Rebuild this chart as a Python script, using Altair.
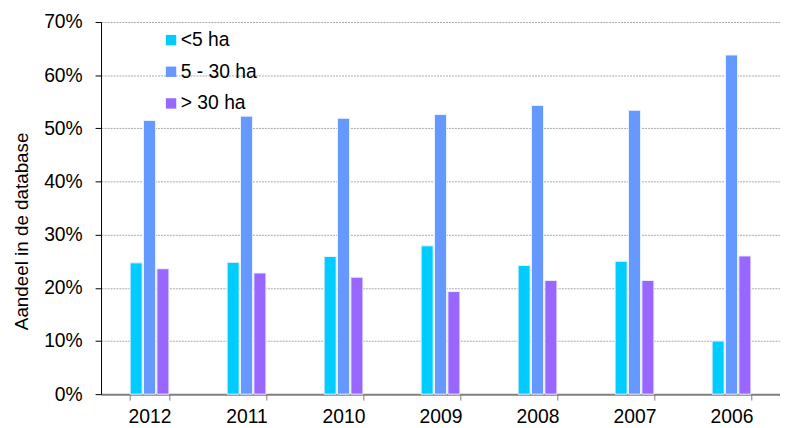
import altair as alt
import pandas as pd

years = ["2012", "2011", "2010", "2009", "2008", "2007", "2006"]
series = ["<5 ha", " 5 - 30 ha", "> 30 ha"]
small = [24.7, 24.8, 25.9, 27.9, 24.2, 25.0, 10.0]
medium = [51.5, 52.3, 51.9, 52.6, 54.3, 53.4, 63.8]
large = [23.6, 22.8, 22.0, 19.3, 21.4, 21.4, 26.0]
colors = ["#00CCFF", "#6699FF", "#9966FF"]

rows = []
for s, vals in zip(series, [small, medium, large]):
    for y, v in zip(years, vals):
        rows.append({"jaar": y, "klasse": s, "aandeel": v / 100})
df = pd.DataFrame(rows)

font = "Liberation Sans"
fs = 19.5

chart = alt.Chart(df).mark_bar(stroke="#EAF2FF", strokeWidth=1).encode(
    x=alt.X("jaar:N", sort=years, title=None,
            scale=alt.Scale(paddingInner=0.6, paddingOuter=0.3),
            axis=alt.Axis(labelAngle=0, tickBand="extent", domainColor="#808080",
                          domainWidth=2, tickColor="#808080", tickSize=6,
                          labelFontSize=fs, labelFont=font, labelColor="#000000",
                          labelPadding=8, grid=False)),
    xOffset=alt.XOffset("klasse:N", sort=series,
                        scale=alt.Scale(paddingInner=0.1)),
    y=alt.Y("aandeel:Q", title="Aandeel in de database",
            scale=alt.Scale(domain=[0, 0.7], nice=False),
            axis=alt.Axis(format=".0%", values=[0, 0.1, 0.2, 0.3, 0.4, 0.5, 0.6, 0.7],
                          domainColor="#000000", tickColor="#000000", tickSize=6,
                          labelFontSize=fs, labelFont=font, labelColor="#000000",
                          labelPadding=13, titleFontSize=19, titleFont=font,
                          titleFontWeight="normal", titleColor="#000000",
                          titlePadding=12, titleY=211,
                          gridColor="#A8A8A8", gridDash=[2, 1], gridWidth=1)),
    color=alt.Color("klasse:N", sort=series,
                    scale=alt.Scale(domain=series, range=colors),
                    legend=alt.Legend(title=None, orient="none", legendX=61, legendY=8.5,
                                      symbolType="square", symbolSize=110,
                                      symbolStrokeWidth=0, labelFontSize=fs,
                                      labelFont=font, labelColor="#000000",
                                      rowPadding=11, padding=0, labelOffset=0)),
).properties(
    width=686, height=376,
    autosize=alt.AutoSizeParams(type="none"),
    padding={"left": 94, "top": 12, "right": 0, "bottom": 32},
).configure_view(stroke=None).configure_axis(domainOpacity=1)

chart.save("out.html", embed_options={"renderer": "svg", "actions": False})
